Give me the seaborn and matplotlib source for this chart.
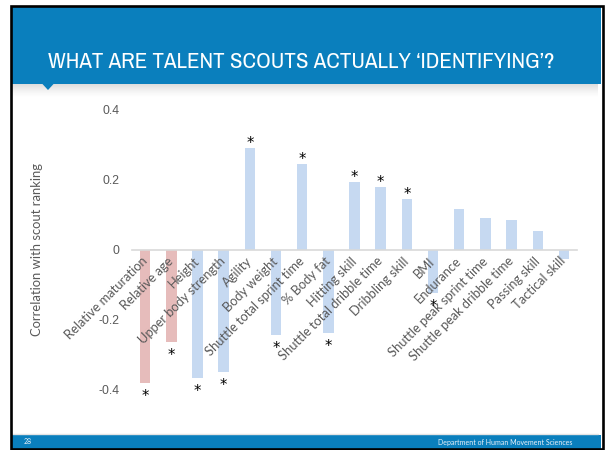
import matplotlib
matplotlib.use("Agg")
import matplotlib.pyplot as plt
from matplotlib.patches import Rectangle, Polygon
from matplotlib import font_manager as fm
import numpy as np
import pandas as pd
import seaborn as sns

# Correlation of each measure with the scouts' ranking
categories = [
    "Relative maturation", "Relative age", "Height", "Upper body strength",
    "Agility", "Body weight", "Shuttle total sprint time", "% Body fat",
    "Hitting skill", "Shuttle total dribble time", "Dribbling skill", "BMI",
    "Endurance", "Shuttle peak sprint time", "Shuttle peak dribble time",
    "Passing skill", "Tactical skill",
]
correlations = [-0.38, -0.262, -0.367, -0.35, 0.29, -0.242, 0.243, -0.237,
                0.191, 0.177, 0.144, -0.123, 0.116, 0.09, 0.083, 0.054, -0.027]
groups = ["age"] * 2 + ["other"] * 15
significant = [True] * 12 + [False] * 5
yticks = [0.4, 0.2, 0, -0.2, -0.4]
ytick_labels = ["0.4", "0.2", "0", "-0.2", "-0.4"]

title = "WHAT ARE TALENT SCOUTS ACTUALLY \u2018IDENTIFYING\u2019?"
footer_left = "28"
footer_right = "Department of Human Movement Sciences"

W, H = 605, 450
BLUE = "#0A7FBD"
GREY_TXT = "#595959"

sns.set_theme(style="white")
plt.rcParams["font.family"] = ["Lato", "DejaVu Sans"]


def narrow_font():
    """Pick a condensed sans-serif face for the slide heading."""
    cands = []
    for f in fm.fontManager.ttflist:
        name = f.name.lower()
        fname = f.fname.lower()
        if f.style != "normal" or "bold" in fname or "oblique" in fname:
            continue
        if "narrow" in name or "narrow" in fname:
            cands.append((0, f.fname))
        elif "condensed" in name or "condensed" in fname or f.stretch == "condensed":
            cands.append((1, f.fname))
    if cands:
        cands.sort()
        return fm.FontProperties(fname=cands[0][1])
    return fm.FontProperties(family="Liberation Sans")


fig = plt.figure(figsize=(W / 100, H / 100), dpi=100)
fig.patch.set_facecolor("white")

# ---- slide background, drawn in pixel coordinates ----
bg = fig.add_axes([0, 0, 1, 1], zorder=0)
bg.set_xlim(0, W)
bg.set_ylim(H, 0)
bg.axis("off")

# header band with soft shadow and small pointer
bg.add_patch(Rectangle((12, 7), 589, 77, color=BLUE, lw=0, zorder=2))
grad = np.ones((40, 1, 4))
grad[:, 0, :3] = 0.55
grad[:, 0, 3] = np.linspace(0.45, 0.0, 40) ** 1.5
bg.imshow(grad, extent=(12, 598, 98, 84), aspect="auto", zorder=1,
          interpolation="bilinear")
bg.add_patch(Polygon([(42, 83.5), (54, 83.5), (48, 90)], closed=True,
                     color=BLUE, lw=0, zorder=3))

title_fp = narrow_font()
title_fp.set_size(17)
title_txt = bg.text(48, 62, title, color="white", va="center", ha="left",
                    fontproperties=title_fp, zorder=4)

# footer band
bg.add_patch(Rectangle((12, 435), 589, 13.5, color=BLUE, lw=0, zorder=2))
bg.plot([12, 598], [433.5, 433.5], color="#E4E4E4", lw=1, zorder=2)
bg.text(24, 442, footer_left, color="#E8F0F8", fontsize=5, va="center",
        ha="left", zorder=4)
bg.text(572, 442, footer_right, color="#E8F0F8", fontsize=5, va="center",
        ha="right", zorder=4)

# slide frame
bg.add_patch(Rectangle((10.5, 5.5), 592, 443.5, fill=False, ec="black",
                       lw=1.9, zorder=5))
bg.set_xlim(0, W)
bg.set_ylim(H, 0)

# y-axis title
bg.text(37, 250, "Correlation with scout ranking", rotation=90, color=GREY_TXT,
        fontsize=9.4, ha="center", va="center", zorder=4)

# ---- the chart ----
ax = fig.add_axes([132 / W, 1 - 390 / H, 445 / W, 281 / H], zorder=2)
ax.set_facecolor("none")

df = pd.DataFrame({"measure": categories, "r": correlations, "group": groups})
sns.barplot(data=df, x="measure", y="r", hue="group", order=categories,
            palette={"age": "#E6BCBB", "other": "#C6D9F1"}, dodge=False,
            width=0.4, saturation=1, linewidth=0, legend=False, ax=ax,
            errorbar=None)

ax.set_axisbelow(False)
ax.set_xlim(-0.5, len(categories) - 0.5)
ax.set_ylim(-0.4, 0.4)
for side in ["top", "right", "left"]:
    ax.spines[side].set_visible(False)
ax.spines["bottom"].set_position(("data", 0))
ax.spines["bottom"].set_color("#D9D9D9")
ax.spines["bottom"].set_linewidth(1.2)
ax.set_xlabel("")
ax.set_ylabel("")

ax.set_yticks(yticks)
ax.set_yticklabels(ytick_labels, color=GREY_TXT, fontsize=8.8,
                   family=["Liberation Sans", "DejaVu Sans"])
ax.tick_params(axis="y", length=0, pad=9)

ax.set_xticks(range(len(categories)))
ax.set_xticklabels(categories, rotation=45, ha="right", va="center",
                   rotation_mode="anchor", color=GREY_TXT, fontsize=9.3)
ax.tick_params(axis="x", length=0, pad=7)

# significance markers
for i, (v, sig) in enumerate(zip(correlations, significant)):
    if not sig:
        continue
    dy = 0 if v > 0 else -13
    ax.annotate("*", xy=(i, v), xytext=(0, dy), textcoords="offset points",
                ha="center", va="baseline", fontsize=10.5, color="black",
                family=["DejaVu Sans"], annotation_clip=False)

# size the heading so it spans the same width as the banner text
renderer = fig.canvas.get_renderer()
width_px = title_txt.get_window_extent(renderer).width
title_fp.set_size(17 * 504 / width_px)
title_txt.set_fontproperties(title_fp)

fig.savefig("out.png", dpi=100, facecolor="white")
